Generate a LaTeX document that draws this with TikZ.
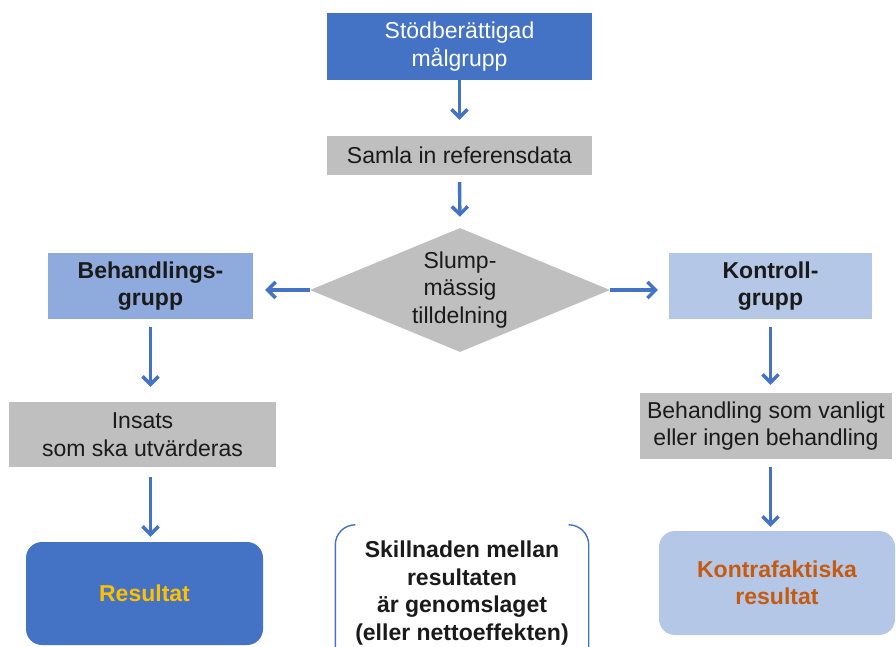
\documentclass[tikz,border=0pt]{standalone}
\usepackage{fontspec}
\setmainfont{Liberation Sans}
\usetikzlibrary{arrows.meta,shapes.geometric,calc}
\definecolor{darkblue}{HTML}{4472C4}
\definecolor{midblue}{HTML}{8FAADC}
\definecolor{lightblue}{HTML}{B4C7E7}
\definecolor{boxgray}{HTML}{BFBFBF}
\definecolor{gold}{HTML}{FFC000}
\definecolor{burnt}{HTML}{C55A11}
\definecolor{txt}{HTML}{1A1A1A}
\tikzset{
  base/.style={inner sep=0pt, align=center, text=txt, font=\fontsize{23}{27.5}\selectfont},
  darkbox/.style={base, rectangle, fill=darkblue, text=white},
  graybox/.style={base, rectangle, fill=boxgray},
  groupbox/.style={base, rectangle, font=\fontsize{23}{27.5}\selectfont\bfseries},
  resbox/.style={base, rectangle, rounded corners=16pt, font=\fontsize{23}{27.5}\selectfont\bfseries},
  flow/.style={draw=darkblue, line width=3.4pt, -{Straight Barb[length=8pt,width=16pt,line width=3.4pt]}},
  bracketline/.style={draw=darkblue, line width=1.4pt, rounded corners=20pt}
}
\begin{document}
\begin{tikzpicture}[x=1pt,y=-1pt]
\useasboundingbox (0,0) rectangle (896,647);
\node[darkbox, minimum width=265pt, minimum height=67pt] (top) at (459.5,46.5) {Stödberättigad\\målgrupp};
\node[graybox, minimum width=265pt, minimum height=39pt] (samla) at (459.5,155.5) {Samla in referensdata};
\node[base, shape=diamond, fill=boxgray, aspect=2.42, minimum width=300pt, minimum height=124pt] (slump) at (460,290) {Slump-\\mässig\\tilldelning};
\node[groupbox, fill=midblue, minimum width=205pt, minimum height=66pt] (beh) at (150.5,286) {Behandlings-\\grupp};
\node[groupbox, fill=lightblue, minimum width=203pt, minimum height=66pt] (kon) at (770.5,286) {Kontroll-\\grupp};
\node[graybox, minimum width=267pt, minimum height=65pt] (insats) at (142.5,434.5) {Insats\\som ska utvärderas};
\node[graybox, minimum width=252pt, minimum height=66pt] (vanlig) at (766,426) {Behandling som vanligt\\eller ingen behandling};
\node[resbox, fill=darkblue, text=gold, minimum width=237pt, minimum height=103pt] (res) at (144.5,593.5) {Resultat};
\node[resbox, fill=lightblue, text=burnt, minimum width=236pt, minimum height=104pt] (kres) at (777,583) {Kontrafaktiska\\resultat};
\node[base, font=\fontsize{23}{27.5}\selectfont\bfseries, minimum width=253pt, minimum height=124pt] (diff) at (462,593) {Skillnaden mellan\\resultaten\\är genomslaget\\(eller nettoeffekten)};
\draw[bracketline] ($(diff.north west)+(19,-6)$) -- ($(diff.north west)+(0,-6)$) -- ($(diff.south west)+(0,20)$);
\draw[bracketline] ($(diff.north east)+(-19,-6)$) -- ($(diff.north east)+(0,-6)$) -- ($(diff.south east)+(0,20)$);
\draw[flow, shorten >=16pt] (top.south) -- (samla.north);
\draw[flow, shorten <=7pt, shorten >=11pt] (samla.south) -- (slump.north);
\draw[flow, shorten >=12pt] (slump.west) -- (beh.east |- slump.west);
\draw[flow, shorten >=11pt] (slump.east) -- (kon.west |- slump.east);
\draw[flow, shorten <=8pt, shorten >=15pt] (beh.south) -- (beh.south |- insats.north);
\draw[flow, shorten <=10pt, shorten >=5pt] (insats.south -| beh.south) -- (res.north -| beh.south);
\draw[flow, shorten <=8pt, shorten >=8pt] (kon.south) -- (kon.south |- vanlig.north);
\draw[flow, shorten <=8pt, shorten >=4pt] (vanlig.south -| kon.south) -- (kres.north -| kon.south);
\end{tikzpicture}
\end{document}
